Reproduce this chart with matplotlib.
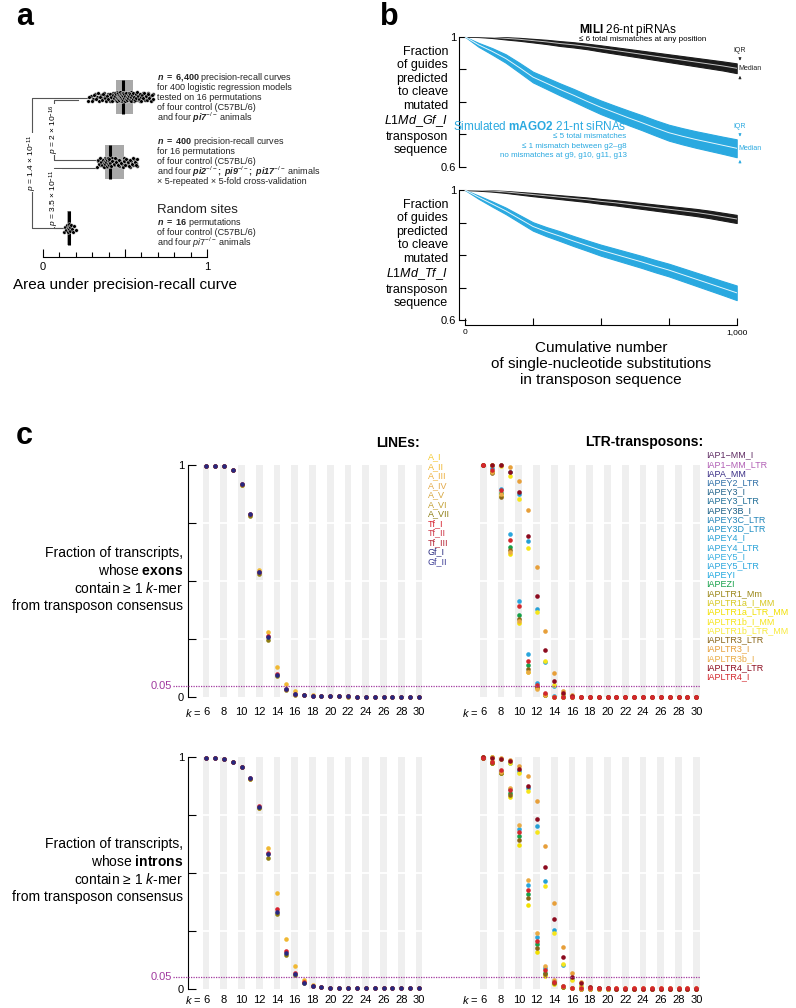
import matplotlib
matplotlib.use("Agg")
import matplotlib.pyplot as plt
import numpy as np
from matplotlib.patches import Rectangle
from matplotlib.lines import Line2D
from matplotlib import transforms

plt.rcParams['font.family'] = ['Liberation Sans', 'DejaVu Sans']
plt.rcParams['mathtext.fontset'] = 'custom'
plt.rcParams['mathtext.rm'] = 'Liberation Sans'
plt.rcParams['mathtext.it'] = 'Liberation Sans:italic'
plt.rcParams['mathtext.bf'] = 'Liberation Sans:bold'
plt.rcParams['mathtext.bfit'] = 'Liberation Sans:bold:italic'

# ---------------- data: panel a (AUPRC per curve) ----------------
auc_models = [0.276, 0.290, 0.305, 0.318, 0.330, 0.342, 0.352, 0.362, 0.372, 0.380,
              0.388, 0.396, 0.403, 0.410, 0.417, 0.423, 0.429, 0.435, 0.440, 0.444,
              0.446, 0.449, 0.451, 0.454, 0.456, 0.458, 0.461, 0.463, 0.465, 0.467,
              0.469, 0.471, 0.473, 0.475, 0.477, 0.479, 0.481, 0.483, 0.484, 0.486,
              0.488, 0.491, 0.494, 0.497, 0.500, 0.503, 0.506, 0.509, 0.512, 0.515,
              0.518, 0.521, 0.524, 0.527, 0.530, 0.534, 0.538, 0.541, 0.545, 0.549,
              0.552, 0.557, 0.562, 0.567, 0.572, 0.577, 0.582, 0.587, 0.592, 0.597,
              0.603, 0.609, 0.615, 0.621, 0.628, 0.635, 0.643, 0.652, 0.662, 0.673,
              0.283, 0.297, 0.311, 0.324, 0.336, 0.347, 0.357, 0.367, 0.376, 0.384,
              0.392, 0.399, 0.406, 0.413, 0.420, 0.426, 0.432, 0.437, 0.442, 0.4435,
              0.447, 0.450, 0.452, 0.455, 0.457, 0.459, 0.462, 0.464, 0.466, 0.468,
              0.470, 0.472, 0.474, 0.476, 0.478, 0.480, 0.482, 0.483, 0.485, 0.4855,
              0.489, 0.492, 0.495, 0.498, 0.501, 0.504, 0.507, 0.510, 0.513, 0.516,
              0.519, 0.522, 0.525, 0.528, 0.532, 0.536, 0.539, 0.543, 0.547, 0.5495,
              0.555, 0.560, 0.565, 0.570, 0.575, 0.580, 0.585, 0.590, 0.595, 0.600,
              0.606, 0.612, 0.618, 0.625, 0.632, 0.639, 0.647, 0.657, 0.667, 0.670]
auc_cv = [0.330, 0.338, 0.345, 0.352, 0.358, 0.363, 0.368, 0.372, 0.375, 0.378,
          0.381, 0.384, 0.387, 0.390, 0.393, 0.396, 0.399, 0.402, 0.405, 0.407,
          0.410, 0.418, 0.426, 0.434, 0.443, 0.452, 0.461, 0.470, 0.479, 0.492,
          0.497, 0.505, 0.512, 0.520, 0.528, 0.537, 0.546, 0.555, 0.565, 0.575,
          0.334, 0.341, 0.348, 0.355, 0.360, 0.365, 0.370, 0.373, 0.376, 0.377,
          0.382, 0.385, 0.388, 0.391, 0.394, 0.397, 0.400, 0.403, 0.404, 0.406,
          0.414, 0.422, 0.430, 0.438, 0.447, 0.456, 0.465, 0.474, 0.485, 0.493,
          0.501, 0.508, 0.516, 0.524, 0.532, 0.541, 0.550, 0.560, 0.570, 0.573]
auc_random = [0.130, 0.137, 0.142, 0.146, 0.150, 0.153, 0.156, 0.158,
              0.160, 0.163, 0.166, 0.170, 0.175, 0.181, 0.190, 0.200]

# ---------------- data: panel b (fraction of guides still cleaving) ----------------
substitutions = [0, 50, 100, 150, 200, 250, 300, 350, 400, 450, 500,
                 550, 600, 650, 700, 750, 800, 850, 900, 950, 1000]
gf_mili_med = [1.000, 1.000, 0.998, 0.995, 0.992, 0.988, 0.984, 0.979, 0.975, 0.970, 0.964,
               0.958, 0.952, 0.946, 0.940, 0.934, 0.928, 0.922, 0.916, 0.910, 0.903]
gf_mili_iqr = [0.000, 0.002, 0.004, 0.007, 0.009, 0.011, 0.013, 0.015, 0.016, 0.017, 0.019,
               0.020, 0.021, 0.022, 0.023, 0.024, 0.025, 0.026, 0.027, 0.028, 0.030]
gf_ago_med = [1.000, 0.975, 0.955, 0.933, 0.905, 0.876, 0.857, 0.838, 0.820, 0.801, 0.783,
              0.767, 0.751, 0.736, 0.720, 0.705, 0.694, 0.684, 0.675, 0.666, 0.657]
gf_ago_iqr = [0.000, 0.012, 0.020, 0.026, 0.030, 0.033, 0.035, 0.037, 0.039, 0.040, 0.042,
              0.043, 0.045, 0.046, 0.047, 0.049, 0.050, 0.051, 0.052, 0.053, 0.055]
tf_mili_med = [1.000, 0.999, 0.997, 0.994, 0.990, 0.986, 0.982, 0.978, 0.974, 0.970, 0.965,
               0.961, 0.956, 0.951, 0.946, 0.941, 0.936, 0.931, 0.925, 0.918, 0.911]
tf_mili_iqr = [0.000, 0.002, 0.004, 0.006, 0.008, 0.010, 0.011, 0.012, 0.013, 0.014, 0.015,
               0.016, 0.017, 0.018, 0.019, 0.020, 0.021, 0.022, 0.023, 0.024, 0.025]
tf_ago_med = [1.000, 0.978, 0.957, 0.936, 0.912, 0.888, 0.872, 0.858, 0.843, 0.829, 0.815,
              0.803, 0.791, 0.779, 0.766, 0.754, 0.740, 0.726, 0.712, 0.698, 0.684]
tf_ago_iqr = [0.000, 0.010, 0.016, 0.020, 0.023, 0.026, 0.028, 0.030, 0.031, 0.032, 0.034,
              0.035, 0.036, 0.037, 0.038, 0.039, 0.040, 0.041, 0.042, 0.043, 0.045]

# ---------------- data: panel c (fraction of transcripts with >=1 k-mer) ----------------
kmer = list(range(6, 31))
kmer_ticks = list(range(6, 31, 2))

line_names = ['A_I', 'A_II', 'A_III', 'A_IV', 'A_V', 'A_VI', 'A_VII',
              'Tf_I', 'Tf_II', 'Tf_III', 'Gf_I', 'Gf_II']
line_colors = ['#f5c92e', '#f0b833', '#edb040', '#e3a848', '#d6a63f', '#c3a035', '#8e7e14',
               '#d6202e', '#cc3344', '#b42434', '#27287e', '#3b3b94']
ltr_names = ['IAP1\u2212MM_I', 'IAP1\u2212MM_LTR', 'IAPA_MM', 'IAPEY2_LTR', 'IAPEY3_I',
             'IAPEY3_LTR', 'IAPEY3B_I', 'IAPEY3C_LTR', 'IAPEY3D_LTR', 'IAPEY4_I',
             'IAPEY4_LTR', 'IAPEY5_I', 'IAPEY5_LTR', 'IAPEYI', 'IAPEZI', 'IAPLTR1_Mm',
             'IAPLTR1a_I_MM', 'IAPLTR1a_LTR_MM', 'IAPLTR1b_I_MM', 'IAPLTR1b_LTR_MM',
             'IAPLTR3_LTR', 'IAPLTR3_I', 'IAPLTR3b_I', 'IAPLTR4_LTR', 'IAPLTR4_I']
ltr_colors = ['#5e2a62', '#b15fb5', '#3b2f86', '#2f6fa6', '#21628a',
              '#1f6d96', '#1b5f86', '#2384b8', '#1f8fc4', '#25a0d6',
              '#2aa3d8', '#35aee0', '#2aa6dd', '#1fa8e0', '#16a04a', '#9a8616',
              '#d6c821', '#f2e000', '#f6e51b', '#f8ea3a',
              '#8a6518', '#e79f3a', '#eaab45', '#8c0b1f', '#d3282d']

# LINEs, exons
a2_exon = [0.997, 0.997, 0.995, 0.980, 0.915, 0.785, 0.548, 0.280, 0.132, 0.057, 0.029, 0.012, 0.008,
           0.006, 0.005, 0.004, 0.004, 0.003, 0.003, 0.002, 0.002, 0.002, 0.002, 0.002, 0.002]
a7_exon = [0.997, 0.997, 0.995, 0.980, 0.912, 0.782, 0.530, 0.247, 0.090, 0.030, 0.012, 0.008, 0.006,
           0.005, 0.004, 0.004, 0.003, 0.003, 0.002, 0.002, 0.002, 0.002, 0.002, 0.002, 0.002]
tf1_exon = [0.997, 0.997, 0.995, 0.980, 0.918, 0.790, 0.540, 0.265, 0.100, 0.036, 0.015, 0.009, 0.007,
            0.006, 0.005, 0.004, 0.004, 0.003, 0.003, 0.002, 0.002, 0.002, 0.002, 0.002, 0.002]
gf1_exon = [0.997, 0.997, 0.995, 0.980, 0.918, 0.789, 0.541, 0.261, 0.096, 0.034, 0.014, 0.009, 0.007,
            0.006, 0.005, 0.004, 0.004, 0.003, 0.003, 0.002, 0.002, 0.002, 0.002, 0.002, 0.002]
# LINEs, introns
a2_intron = [0.996, 0.993, 0.990, 0.979, 0.957, 0.905, 0.780, 0.609, 0.412, 0.215, 0.100, 0.040, 0.016,
             0.009, 0.006, 0.005, 0.005, 0.005, 0.004, 0.004, 0.004, 0.004, 0.004, 0.004, 0.004]
a7_intron = [0.996, 0.993, 0.990, 0.979, 0.955, 0.903, 0.778, 0.565, 0.325, 0.147, 0.060, 0.025, 0.013,
             0.008, 0.006, 0.005, 0.005, 0.005, 0.004, 0.004, 0.004, 0.004, 0.004, 0.004, 0.004]
tf1_intron = [0.996, 0.993, 0.990, 0.979, 0.957, 0.907, 0.787, 0.585, 0.345, 0.165, 0.070, 0.028, 0.014,
              0.008, 0.006, 0.005, 0.005, 0.005, 0.004, 0.004, 0.004, 0.004, 0.004, 0.004, 0.004]
gf1_intron = [0.996, 0.993, 0.990, 0.979, 0.957, 0.907, 0.785, 0.580, 0.330, 0.154, 0.065, 0.027, 0.014,
              0.008, 0.006, 0.005, 0.005, 0.005, 0.004, 0.004, 0.004, 0.004, 0.004, 0.004, 0.004]

# LTR-transposons, exons
ey4i_exon = [1.000, 1.000, 0.998, 0.968, 0.875, 0.672, 0.381, 0.150, 0.048, 0.012, 0.004, 0.002, 0.001,
             0.001, 0.001, 0.001, 0.001, 0.001, 0.001, 0.001, 0.001, 0.001, 0.001, 0.001, 0.001]
ey5ltr_exon = [1.000, 0.985, 0.895, 0.703, 0.416, 0.185, 0.060, 0.015, 0.004, 0.001, 0.001, 0.001, 0.001,
               0.001, 0.001, 0.001, 0.001, 0.001, 0.001, 0.001, 0.001, 0.001, 0.001, 0.001, 0.001]
ezi_exon = [1.000, 0.972, 0.880, 0.645, 0.355, 0.140, 0.045, 0.012, 0.003, 0.001, 0.001, 0.001, 0.001,
            0.001, 0.001, 0.001, 0.001, 0.001, 0.001, 0.001, 0.001, 0.001, 0.001, 0.001, 0.001]
l1a_exon = [1.000, 0.970, 0.868, 0.616, 0.321, 0.110, 0.038, 0.010, 0.003, 0.001, 0.001, 0.001, 0.001,
            0.001, 0.001, 0.001, 0.001, 0.001, 0.001, 0.001, 0.001, 0.001, 0.001, 0.001, 0.001]
l1b_exon = [1.000, 1.000, 0.995, 0.953, 0.852, 0.643, 0.367, 0.156, 0.053, 0.015, 0.004, 0.001, 0.001,
            0.001, 0.001, 0.001, 0.001, 0.001, 0.001, 0.001, 0.001, 0.001, 0.001, 0.001, 0.001]
l3ltr_exon = [1.000, 0.966, 0.862, 0.634, 0.336, 0.122, 0.045, 0.012, 0.003, 0.001, 0.001, 0.001, 0.001,
              0.001, 0.001, 0.001, 0.001, 0.001, 0.001, 0.001, 0.001, 0.001, 0.001, 0.001, 0.001]
l3i_exon = [1.000, 1.000, 1.000, 0.990, 0.933, 0.805, 0.560, 0.285, 0.103, 0.029, 0.008, 0.002, 0.001,
            0.001, 0.001, 0.001, 0.001, 0.001, 0.001, 0.001, 0.001, 0.001, 0.001, 0.001, 0.001]
l3b_exon = [1.000, 0.969, 0.874, 0.625, 0.330, 0.110, 0.037, 0.010, 0.003, 0.001, 0.001, 0.001, 0.001,
            0.001, 0.001, 0.001, 0.001, 0.001, 0.001, 0.001, 0.001, 0.001, 0.001, 0.001, 0.001]
l4ltr_exon = [1.000, 1.000, 1.000, 0.971, 0.882, 0.694, 0.437, 0.205, 0.070, 0.020, 0.005, 0.001, 0.001,
              0.001, 0.001, 0.001, 0.001, 0.001, 0.001, 0.001, 0.001, 0.001, 0.001, 0.001, 0.001]
l4i_exon = [1.000, 0.979, 0.891, 0.679, 0.393, 0.156, 0.053, 0.020, 0.003, 0.001, 0.000, 0.000, 0.000,
            0.000, 0.000, 0.000, 0.000, 0.000, 0.000, 0.000, 0.000, 0.000, 0.000, 0.000, 0.000]
# LTR-transposons, introns
ey4i_intron = [1.000, 0.997, 0.992, 0.975, 0.940, 0.865, 0.703, 0.465, 0.255, 0.102, 0.042, 0.015, 0.006,
               0.003, 0.002, 0.002, 0.002, 0.002, 0.002, 0.002, 0.002, 0.002, 0.002, 0.002, 0.002]
ey5ltr_intron = [0.995, 0.978, 0.938, 0.860, 0.690, 0.446, 0.225, 0.090, 0.033, 0.012, 0.004, 0.002, 0.001,
                 0.001, 0.001, 0.001, 0.001, 0.001, 0.001, 0.001, 0.001, 0.001, 0.001, 0.001, 0.001]
ezi_intron = [0.995, 0.975, 0.930, 0.845, 0.660, 0.410, 0.195, 0.070, 0.025, 0.010, 0.004, 0.002, 0.001,
              0.001, 0.001, 0.001, 0.001, 0.001, 0.001, 0.001, 0.001, 0.001, 0.001, 0.001, 0.001]
l1a_intron = [0.995, 0.975, 0.930, 0.825, 0.619, 0.363, 0.159, 0.055, 0.020, 0.007, 0.003, 0.001, 0.001,
              0.001, 0.001, 0.001, 0.001, 0.001, 0.001, 0.001, 0.001, 0.001, 0.001, 0.001, 0.001]
l1b_intron = [1.000, 0.997, 0.990, 0.971, 0.930, 0.851, 0.676, 0.445, 0.242, 0.109, 0.040, 0.012, 0.005,
              0.002, 0.002, 0.002, 0.002, 0.002, 0.002, 0.002, 0.002, 0.002, 0.002, 0.002, 0.002]
l3ltr_intron = [0.995, 0.975, 0.930, 0.835, 0.643, 0.390, 0.178, 0.063, 0.025, 0.010, 0.004, 0.002, 0.001,
                0.001, 0.001, 0.001, 0.001, 0.001, 0.001, 0.001, 0.001, 0.001, 0.001, 0.001, 0.001]
l3i_intron = [1.000, 1.000, 0.995, 0.985, 0.961, 0.917, 0.811, 0.617, 0.372, 0.180, 0.070, 0.030, 0.010,
              0.005, 0.003, 0.003, 0.003, 0.003, 0.003, 0.003, 0.003, 0.003, 0.003, 0.003, 0.003]
l3b_intron = [1.000, 0.980, 0.933, 0.867, 0.705, 0.471, 0.240, 0.100, 0.037, 0.015, 0.005, 0.002, 0.001,
              0.001, 0.001, 0.001, 0.001, 0.001, 0.001, 0.001, 0.001, 0.001, 0.001, 0.001, 0.001]
l4ltr_intron = [1.000, 0.996, 0.990, 0.981, 0.946, 0.874, 0.732, 0.527, 0.301, 0.139, 0.053, 0.024, 0.010,
                0.005, 0.003, 0.002, 0.002, 0.002, 0.002, 0.002, 0.002, 0.002, 0.002, 0.002, 0.002]
l4i_intron = [0.993, 0.976, 0.943, 0.858, 0.675, 0.428, 0.208, 0.080, 0.030, 0.014, 0.005, 0.004, 0.003,
              0.003, 0.003, 0.003, 0.003, 0.003, 0.003, 0.003, 0.003, 0.003, 0.003, 0.003, 0.003]

line_exon = {'A_II': a2_exon, 'A_VII': a7_exon, 'Tf_I': tf1_exon, 'Gf_I': gf1_exon}
line_intron = {'A_II': a2_intron, 'A_VII': a7_intron, 'Tf_I': tf1_intron, 'Gf_I': gf1_intron}
ltr_exon = {'IAPEY4_I': ey4i_exon, 'IAPEY5_LTR': ey5ltr_exon, 'IAPEZI': ezi_exon,
            'IAPLTR1a_LTR_MM': l1a_exon, 'IAPLTR1b_I_MM': l1b_exon, 'IAPLTR3_LTR': l3ltr_exon,
            'IAPLTR3_I': l3i_exon, 'IAPLTR3b_I': l3b_exon, 'IAPLTR4_LTR': l4ltr_exon,
            'IAPLTR4_I': l4i_exon}
ltr_intron = {'IAPEY4_I': ey4i_intron, 'IAPEY5_LTR': ey5ltr_intron, 'IAPEZI': ezi_intron,
              'IAPLTR1a_LTR_MM': l1a_intron, 'IAPLTR1b_I_MM': l1b_intron, 'IAPLTR3_LTR': l3ltr_intron,
              'IAPLTR3_I': l3i_intron, 'IAPLTR3b_I': l3b_intron, 'IAPLTR4_LTR': l4ltr_intron,
              'IAPLTR4_I': l4i_intron}

# ---------------- figure ----------------
W, H = 796, 1008
fig = plt.figure(figsize=(W / 100, H / 100), dpi=100)


def px_axes(x0, y0, x1, y1):
    return fig.add_axes([x0 / W, 1 - y1 / H, (x1 - x0) / W, (y1 - y0) / H])


def T(x, y, s, **kw):
    return fig.text(x / W, 1 - y / H, s, **kw)


blue = '#2aa9e0'
purple = '#a0399f'

# panel letters
T(16, 25, 'a', fontsize=22, fontweight='bold')
T(380, 25, 'b', fontsize=22, fontweight='bold')
T(16, 444, 'c', fontsize=22, fontweight='bold')

# ================= panel a =================
ax = px_axes(43, 70, 207, 256.7)
ax.set_xlim(0, 1)
ax.set_ylim(-0.44, 2.41)
ax.patch.set_visible(False)
for s in ['left', 'right', 'top']:
    ax.spines[s].set_visible(False)
ax.spines['bottom'].set_linewidth(0.8)
ax.set_yticks([])
ax.set_xticks([0, 0.5, 1])
ax.set_xticklabels(['0', '', '1'], fontsize=8)
ax.set_xticks(np.arange(0.1, 1.0, 0.1), minor=True)
ax.tick_params(axis='x', which='major', direction='in', length=6, width=0.8, pad=4)
ax.tick_params(axis='x', which='minor', direction='in', length=3.5, width=0.8)

for vals, yc in [(auc_random, 0), (auc_cv, 1), (auc_models, 2)]:
    vals = np.array(vals)
    q1, med, q3 = np.percentile(vals, [25, 50, 75])
    ax.add_patch(Rectangle((q1, yc - 0.26), q3 - q1, 0.52, facecolor='#a9a9a9',
                           edgecolor='none', zorder=1))
    ax.plot([med, med], [yc - 0.26, yc + 0.26], color='black', lw=2.2, zorder=2,
            solid_capstyle='butt')
    jit = (np.arange(len(vals)) * 0.618034) % 1 - 0.5
    ax.scatter(vals, yc + jit * 0.14, s=7, c='black', edgecolors='white',
               linewidths=0.3, zorder=3)

bc = '#555555'
x_out, x_in = -0.065, 0.07
ax.plot([min(auc_models) - 0.005, x_out, x_out, min(auc_random) - 0.005],
        [1.99, 1.99, 0.0, 0.0], color=bc, lw=0.8, clip_on=False, zorder=0)
ax.plot([min(auc_models) - 0.06, x_in, x_in, min(auc_cv) - 0.005],
        [1.95, 1.95, 1.04, 1.04], color=bc, lw=0.8, clip_on=False, zorder=0)
ax.plot([min(auc_cv) - 0.005, x_in, x_in, min(auc_random) - 0.005],
        [0.92, 0.92, 0.0, 0.0], color=bc, lw=0.8, clip_on=False, zorder=0)
pbox = dict(facecolor='white', edgecolor='none', pad=0.6)
ax.text(x_out, 1.0, r'$p$ = 1.4 × 10$^{-11}$', rotation=90, fontsize=6,
        ha='center', va='center', bbox=pbox, clip_on=False)
ax.text(x_in, 1.5, r'$p$ = 2 × 10$^{-16}$', rotation=90, fontsize=6,
        ha='center', va='center', bbox=pbox, clip_on=False)
ax.text(x_in, 0.46, r'$p$ = 3.5 × 10$^{-11}$', rotation=90, fontsize=6,
        ha='center', va='center', bbox=pbox, clip_on=False)

notes_top = [r'$\mathbfit{n}\ \mathbf{=}\ \mathbf{6{,}400}$ precision-recall curves',
             'for 400 logistic regression models',
             'tested on 16 permutations',
             'of four control (C57BL/6)',
             r'and four $\mathbfit{pi7}^{-/-}$ animals']
notes_mid = [r'$\mathbfit{n}\ \mathbf{=}\ \mathbf{400}$ precision-recall curves',
             'for 16 permutations',
             'of four control (C57BL/6)',
             r'and four $\mathbfit{pi2}^{-/-}\mathbf{;}$ $\mathbfit{pi9}^{-/-}\mathbf{;}$ $\mathbfit{pi17}^{-/-}$ animals',
             '× 5-repeated × 5-fold cross-validation']
notes_bot = [r'$\mathbfit{n}\ \mathbf{=}\ \mathbf{16}$ permutations',
             'of four control (C57BL/6)',
             r'and four $\mathit{pi7}^{-/-}$ animals']
for i, s in enumerate(notes_top):
    T(157, 78 + i * 9.9, s, fontsize=6.5, va='center', color='#222222')
for i, s in enumerate(notes_mid):
    T(157, 141.7 + i * 9.9, s, fontsize=6.5, va='center', color='#222222')
T(157, 210, 'Random sites', fontsize=9.5, va='center', color='#222222')
for i, s in enumerate(notes_bot):
    T(157, 222.7 + i * 9.9, s, fontsize=6.5, va='center', color='#222222')
T(125, 285, 'Area under precision-recall curve', fontsize=11, ha='center', va='center')

# ================= panel b =================


def guide_panel(ax, mili_med, mili_iqr, ago_med, ago_iqr, bottom_axis):
    x = np.array(substitutions)
    ax.set_xlim(-22, 1000)
    ax.set_ylim(0.585, 1.0)
    ax.patch.set_visible(False)
    for med, iqr, band, line in [(mili_med, mili_iqr, '#1c1c1c', '#c4c4c4'),
                                 (ago_med, ago_iqr, blue, '#e6f6fc')]:
        med = np.array(med)
        iqr = np.array(iqr)
        ax.fill_between(x, med - iqr / 2, med + iqr / 2, facecolor=band,
                        edgecolor=band, lw=0.8, zorder=2)
        ax.plot(x, med, color=line, lw=0.7, zorder=3)
    ax.spines['right'].set_visible(False)
    ax.spines['top'].set_visible(False)
    ax.spines['left'].set_bounds(0.6, 1.0)
    ax.spines['left'].set_linewidth(0.8)
    ax.set_yticks([0.6, 0.7, 0.8, 0.9, 1.0])
    ax.set_yticklabels(['0.6', '', '', '', '1'], fontsize=8)
    ax.tick_params(axis='y', direction='in', length=5, width=0.8, pad=2)
    if bottom_axis:
        ax.spines['bottom'].set_bounds(0, 1000)
        ax.spines['bottom'].set_linewidth(0.8)
        ax.set_xticks([0, 250, 500, 750, 1000])
        ax.set_xticklabels(['0', '', '', '', '1,000'], fontsize=6)
        ax.tick_params(axis='x', direction='in', length=5, width=0.8, pad=3)
    else:
        ax.spines['bottom'].set_visible(False)
        ax.set_xticks([])


axb1 = px_axes(459, 36.7, 736.7, 171.7)
guide_panel(axb1, gf_mili_med, gf_mili_iqr, gf_ago_med, gf_ago_iqr, False)
axb2 = px_axes(459, 190, 736.7, 325)
guide_panel(axb2, tf_mili_med, tf_mili_iqr, tf_ago_med, tf_ago_iqr, True)

# IQR / median markers at the end of the top panel
for med, iqr, col in [(gf_mili_med[-1], gf_mili_iqr[-1], '#222222'),
                      (gf_ago_med[-1], gf_ago_iqr[-1], blue)]:
    hi = med + iqr / 2
    lo = med - iqr / 2
    axb1.annotate('', xy=(1012, hi), xytext=(1012, hi + 0.025),
                  arrowprops=dict(arrowstyle='-|>', lw=0.5, color=col, mutation_scale=4),
                  annotation_clip=False)
    axb1.annotate('', xy=(1012, lo), xytext=(1012, lo - 0.025),
                  arrowprops=dict(arrowstyle='-|>', lw=0.5, color=col, mutation_scale=4),
                  annotation_clip=False)
    axb1.text(1012, hi + 0.03, 'IQR', fontsize=5, color=col, ha='center', va='bottom',
              clip_on=False)
    axb1.text(1005, med, 'Median', fontsize=5, color=col, ha='left', va='center',
              clip_on=False)

T(579, 30, r'$\mathbf{MILI}$ 26-nt piRNAs', fontsize=8.5, va='center')
T(579, 39.5, '≤ 6 total mismatches at any position', fontsize=5.8, va='center')
T(626.7, 127, r'Simulated $\mathbf{mAGO2}$ 21-nt siRNAs', fontsize=8.5, va='center',
  ha='right', color=blue)
for i, s in enumerate(['≤ 5 total mismatches', '≤ 1 mismatch between g2–g8',
                       'no mismatches at g9, g10, g11, g13']):
    T(626.7, 136.7 + i * 9.3, s, fontsize=5.8, va='center', ha='right', color=blue)

T(448, 101, 'Fraction\nof guides\npredicted\nto cleave\nmutated\n'
  r'$\mathit{L1Md\_Gf\_I}$' '\ntransposon\nsequence',
  fontsize=9, ha='right', va='center', linespacing=1.17)
T(448, 254, 'Fraction\nof guides\npredicted\nto cleave\nmutated\n'
  r'$\mathit{L1Md\_Tf\_I}$' '\ntransposon\nsequence',
  fontsize=9, ha='right', va='center', linespacing=1.17)
T(601, 364, 'Cumulative number\nof single-nucleotide substitutions\nin transposon sequence',
  fontsize=11, ha='center', va='center', linespacing=1.15)

# ================= panel c =================


def kmer_panel(ax, series, names, colors, with_spine, x_left, pad):
    ax.set_xlim(x_left, 31)
    ax.set_ylim(0, 1)
    ax.patch.set_visible(False)
    for k in kmer_ticks:
        ax.axvspan(k - 0.375, k + 0.375, color='#efefef', lw=0, zorder=0)
    for y in [0.25, 0.5, 0.75]:
        ax.axhline(y, color='white', lw=1.3, zorder=1)
    for name, col in zip(names, colors):
        if name in series:
            ax.plot(kmer, series[name], 'o', ms=3.3, color=col, mec='none',
                    clip_on=False, zorder=3)
    for s in ['right', 'top', 'bottom']:
        ax.spines[s].set_visible(False)
    ax.set_xticks(kmer_ticks)
    ax.set_xticklabels([str(k) for k in kmer_ticks], fontsize=8)
    ax.tick_params(axis='x', length=0, pad=pad)
    ky = -(pad / 72 * 100 + 5.5) / 232.3
    ax.text(5.45, ky, r'$k$ =', transform=ax.get_xaxis_transform(), fontsize=8,
            ha='right', va='center')
    if with_spine:
        ax.spines['left'].set_linewidth(0.8)
        ax.set_yticks([0, 0.25, 0.5, 0.75, 1])
        ax.set_yticklabels(['0', '', '', '', '1'], fontsize=8)
        ax.tick_params(axis='y', direction='in', length=6, width=0.8, pad=3)
        trans = transforms.blended_transform_factory(fig.transFigure, ax.transData)
        fig.add_artist(Line2D([173 / W, 700 / W], [0.05, 0.05], transform=trans,
                              color=purple, lw=0.9, ls=(0, (1, 1)), zorder=5))
        ax.text(172 / W, 0.05, '0.05', transform=trans, color=purple, fontsize=8,
                ha='right', va='center')
    else:
        ax.spines['left'].set_visible(False)
        ax.set_yticks([])


ylab = ('Fraction of transcripts,\nwhose $\\mathbf{%s}$\ncontain ≥ 1 $k$-mer\n'
        'from transposon consensus')
for (y0, y1, l_ser, t_ser, word, pad) in [(465, 697.3, line_exon, ltr_exon, 'exons', 7),
                                          (756.7, 989, line_intron, ltr_intron, 'introns', 4)]:
    axl = px_axes(188.25, y0, 427.9, y1)
    kmer_panel(axl, l_ser, line_names, line_colors, True, 4, pad)
    axr = px_axes(474.4, y0, 705.2, y1)
    kmer_panel(axr, t_ser, ltr_names, ltr_colors, False, 5, pad)
    T(183, (y0 + y1) / 2 - 2, ylab % word, fontsize=10, ha='right', va='center',
      linespacing=1.25)

T(420, 443, 'LINEs:', fontsize=10, fontweight='bold', ha='right', va='center')
T(703, 441.7, 'LTR-transposons:', fontsize=10, fontweight='bold', ha='right', va='center')
for i, (name, col) in enumerate(zip(line_names, line_colors)):
    T(428, 456.7 + i * 9.55, name, fontsize=6.5, color=col, va='center')
for i, (name, col) in enumerate(zip(ltr_names, ltr_colors)):
    T(706, 455 + i * 9.24, name, fontsize=6.5, color=col, va='center')

fig.savefig('out.png', dpi=100)
